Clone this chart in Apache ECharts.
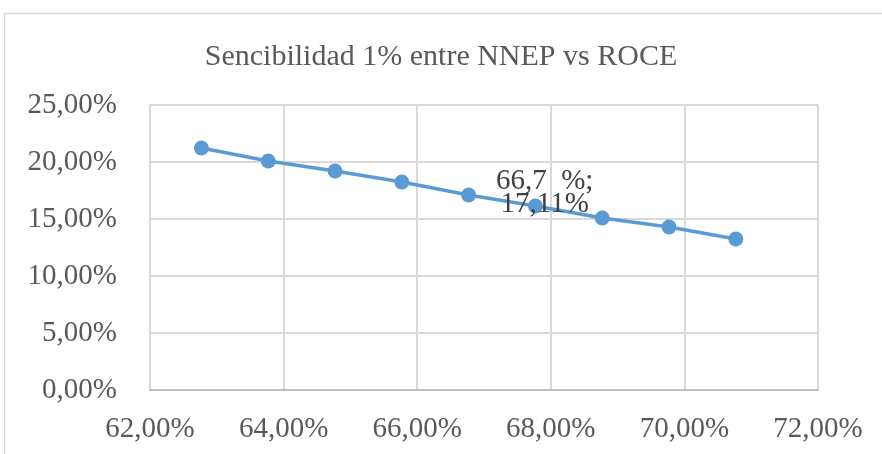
<!DOCTYPE html>
<html><head><meta charset="utf-8">
<script src="https://cdn.jsdelivr.net/npm/echarts@6/dist/echarts.min.js"></script>
<style>html,body{margin:0;padding:0;background:#fff}#c{width:882px;height:454px}</style>
</head><body><div id="c"></div>
<script>
const titleText = 'Sencibilidad 1% entre NNEP vs ROCE';
const nnep = [62.77, 63.77, 64.77, 65.77, 66.77, 67.77, 68.77, 69.77, 70.77];
const roce = [21.23, 20.09, 19.21, 18.25, 17.11, 16.14, 15.09, 14.30, 13.25];
const labelIndex = 4;
const labelLines = ['66,7  %;', '17,11%'];
const xTicks = [62, 64, 66, 68, 70, 72];
const yTicks = [0, 5, 10, 15, 20, 25];

const fmt = v => v.toFixed(2).replace('.', ',') + '%';
const font = '"Liberation Serif", "DejaVu Serif", serif';

const data = nnep.map((x, i) => {
  const d = { value: [x, roce[i]] };
  if (i === labelIndex) {
    d.label = {
      show: true, position: 'inside', offset: [76, -2],
      formatter: labelLines.join('\n'),
      fontFamily: font, fontSize: 29, lineHeight: 23, color: '#404040'
    };
  }
  return d;
});

const chart = echarts.init(document.getElementById('c'), null, { renderer: 'canvas' });
chart.setOption({
  animation: false,
  title: {
    text: titleText, left: 'center', top: 37,
    textStyle: { fontFamily: font, fontSize: 30, fontWeight: 'normal', color: '#595959' }
  },
  graphic: [{
    type: 'rect', shape: { x: 4.5, y: 13.5, width: 900, height: 460 },
    style: { fill: 'none', stroke: '#d9d9d9', lineWidth: 1.5 }, silent: true, z: -1
  }],
  grid: { left: 150, right: 64, top: 105, bottom: 64 },
  xAxis: {
    type: 'value', min: xTicks[0], max: xTicks[xTicks.length - 1], interval: 2,
    axisLine: { show: true, lineStyle: { color: '#bfbfbf', width: 2 } },
    axisTick: { show: false },
    splitLine: { show: true, lineStyle: { color: '#d9d9d9', width: 2 } },
    axisLabel: { formatter: fmt, fontFamily: font, fontSize: 29, color: '#595959', margin: 25 }
  },
  yAxis: {
    type: 'value', min: yTicks[0], max: yTicks[yTicks.length - 1], interval: 5,
    axisLine: { show: true, lineStyle: { color: '#d9d9d9', width: 2 } },
    axisTick: { show: false },
    splitLine: { show: true, lineStyle: { color: '#d9d9d9', width: 2 } },
    axisLabel: { formatter: fmt, fontFamily: font, fontSize: 29, color: '#595959', margin: 33 }
  },
  series: [{
    type: 'line', data: data,
    symbol: 'circle', symbolSize: 15,
    lineStyle: { color: '#5b9bd5', width: 3.5 },
    itemStyle: { color: '#5b9bd5' },
    label: { show: false }
  }]
});
</script></body></html>
